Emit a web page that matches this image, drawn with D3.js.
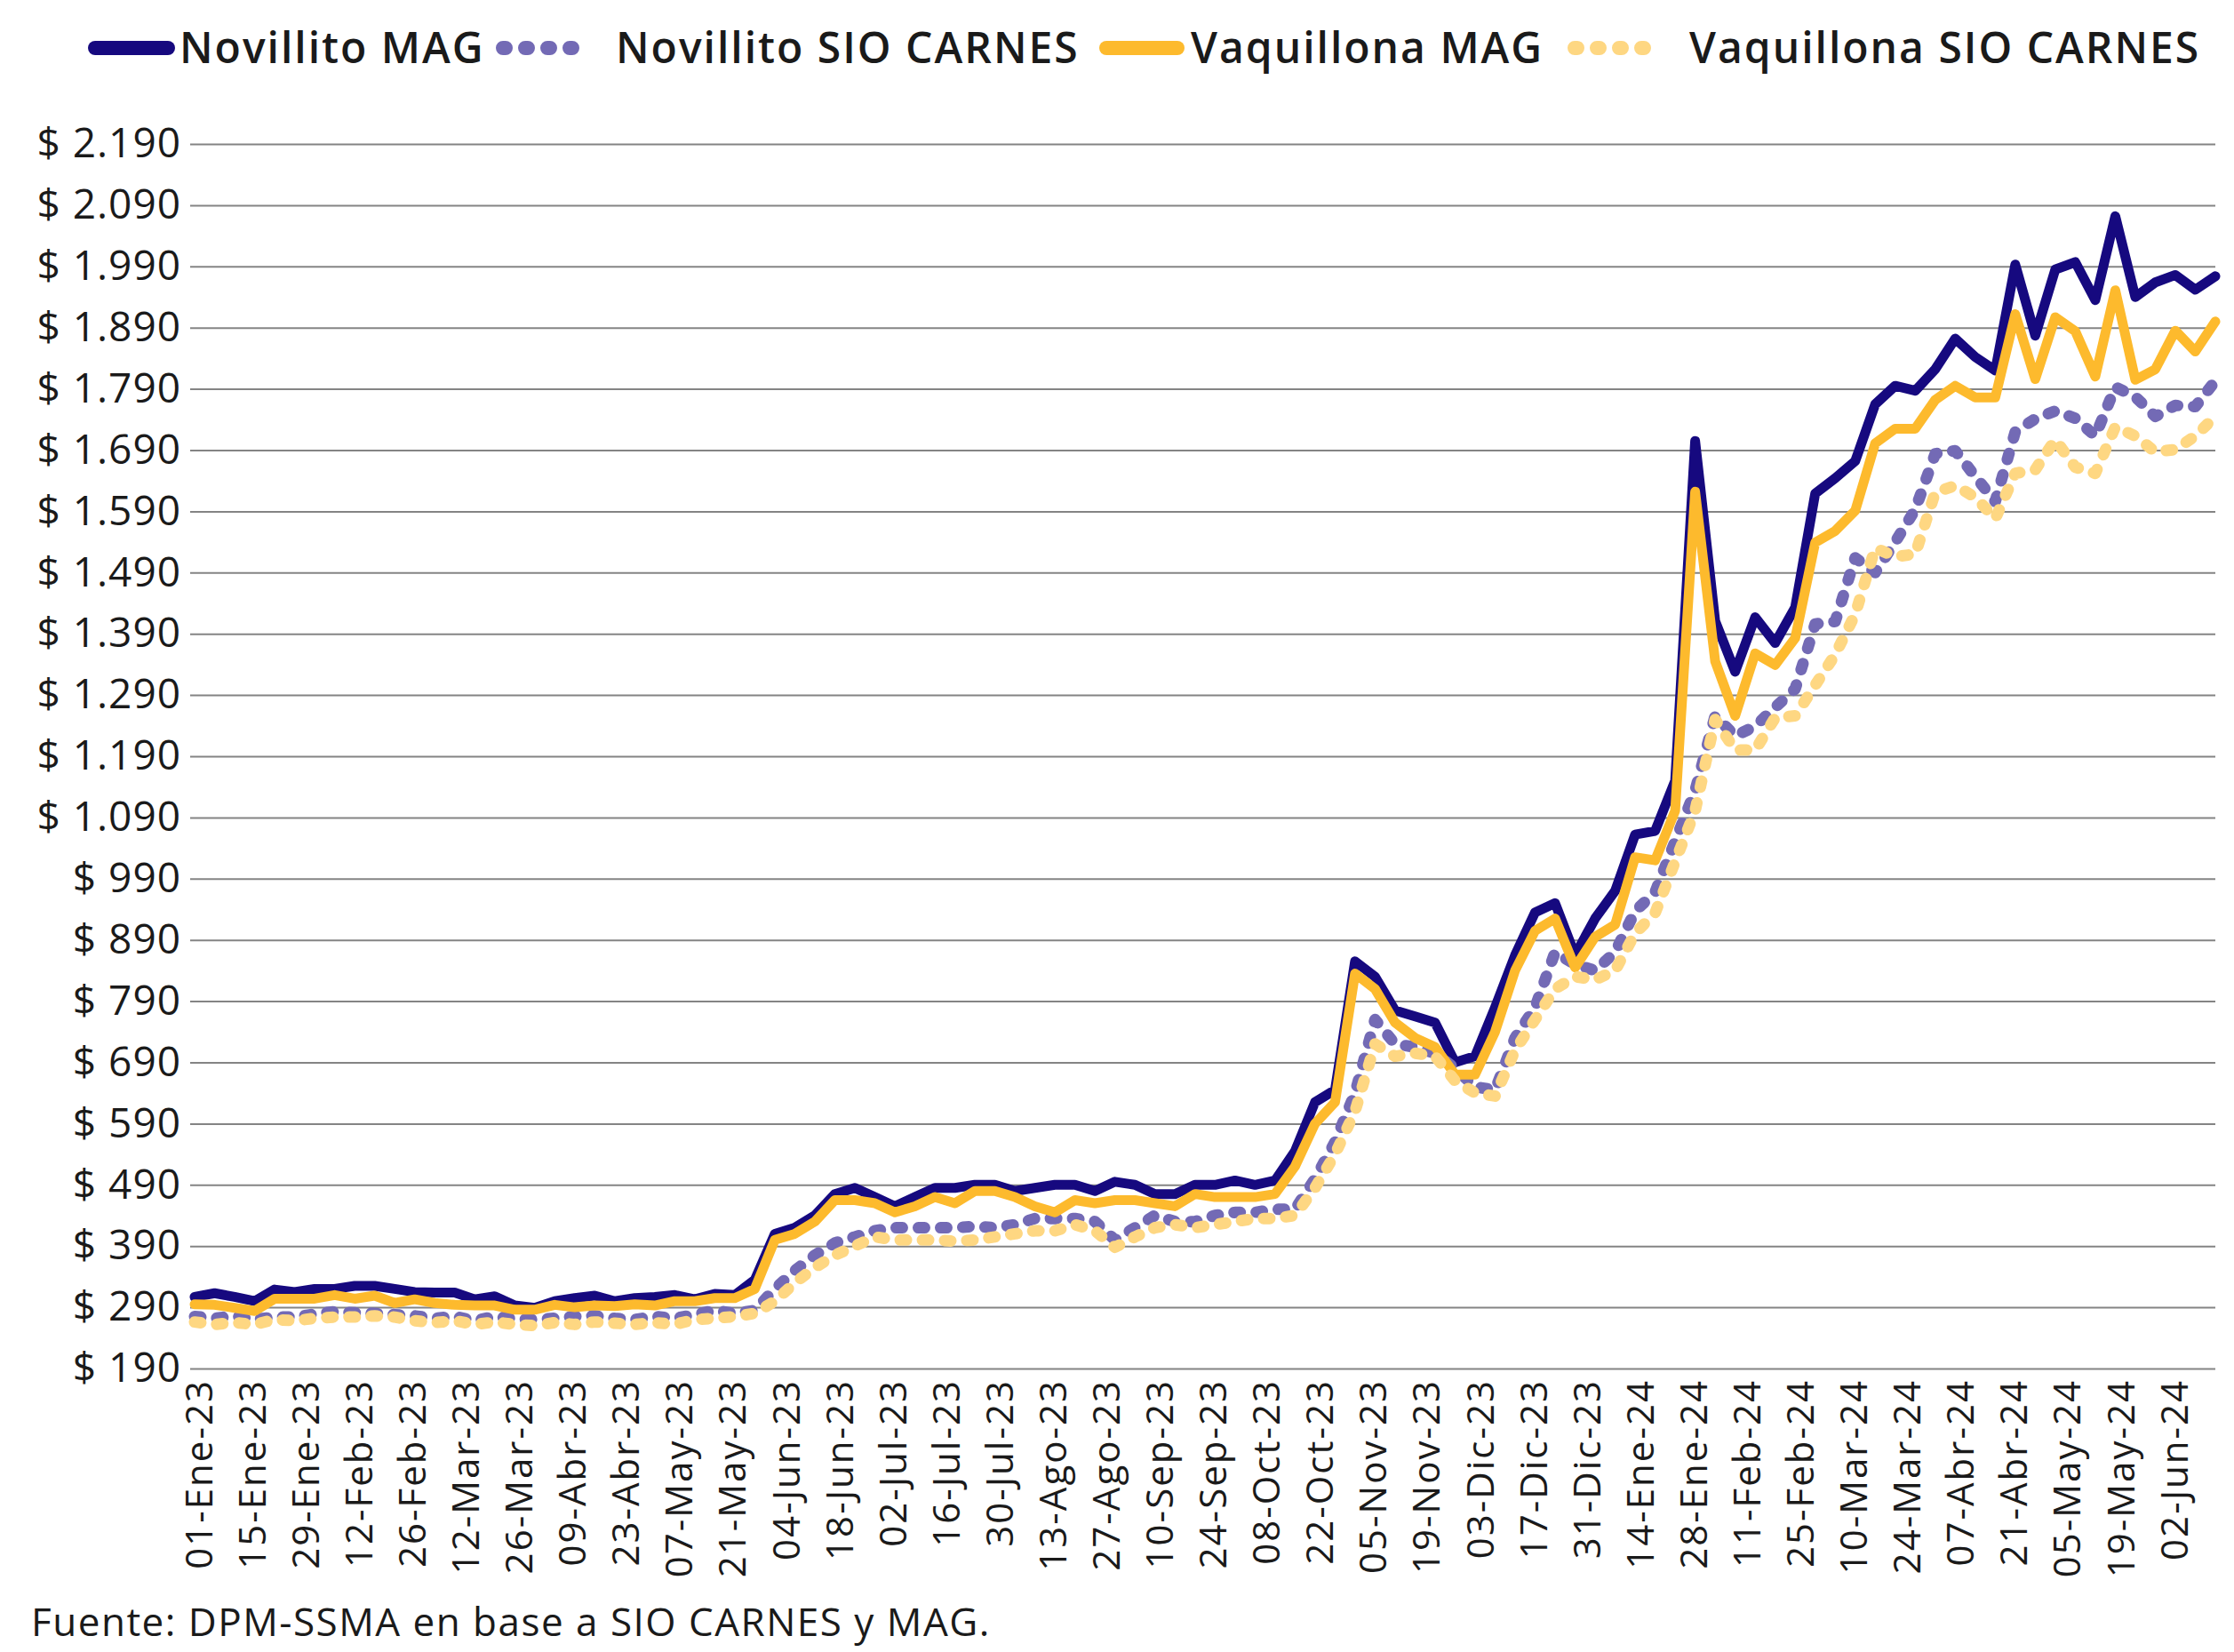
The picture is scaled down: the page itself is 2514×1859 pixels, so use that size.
<!DOCTYPE html>
<html>
<head>
<meta charset="utf-8">
<script src="https://cdn.jsdelivr.net/npm/d3@7"></script>
<style>
  body { margin: 0; background: #fff; }
  svg { display: block; font-family: "Open Sans", sans-serif; }
</style>
</head>
<body>
<svg id="chart" width="2514" height="1859"></svg>
<script>
// ----- DATA -----
const seriesNames = ["Novillito MAG", "Novillito SIO CARNES", "Vaquillona MAG", "Vaquillona SIO CARNES"];

const novilloMag = [307, 313, 307, 300, 319, 315, 320, 320, 325, 325, 320, 315, 314, 314, 303, 308, 293, 289, 300, 305,
  309, 300, 305, 307, 310, 303, 312, 310, 335, 410, 420, 440, 475, 485, 470, 455, 470, 485, 485, 490,
  490, 480, 485, 490, 490, 480, 495, 490, 475, 475, 490, 490, 497, 490, 497, 545, 625, 645, 855, 830,
  775, 765, 755, 690, 700, 780, 865, 935, 950, 865, 925, 970, 1062, 1068, 1150, 1705, 1411, 1328, 1417, 1375,
  1433, 1619, 1644, 1672, 1765, 1795, 1787, 1822, 1872, 1842, 1820, 1993, 1877, 1985, 1997, 1935, 2072, 1940, 1964, 1976,
  1952, 1974];

const novilloSio = [275, 272, 276, 270, 274, 274, 279, 283, 281, 280, 278, 276, 272, 275, 268, 275, 271, 270, 272, 275,
  276, 272, 270, 275, 272, 278, 285, 280, 285, 320, 350, 375, 395, 405, 415, 420, 420, 420, 420, 422,
  420, 425, 435, 435, 435, 430, 400, 420, 440, 430, 430, 440, 445, 445, 450, 450, 500, 560, 640, 760,
  720, 715, 705, 680, 650, 645, 730, 780, 870, 850, 840, 870, 937, 968, 1051, 1134, 1256, 1223, 1239, 1270,
  1300, 1406, 1410, 1514, 1490, 1540, 1593, 1684, 1689, 1647, 1606, 1720, 1741, 1754, 1742, 1713, 1793, 1777, 1745, 1763,
  1761, 1803];

const vaquillonaMag = [295, 294, 289, 284, 304, 304, 304, 310, 304, 309, 297, 303, 297, 294, 293, 293, 286, 286, 294, 290,
  293, 292, 295, 293, 300, 300, 305, 305, 320, 400, 410, 430, 465, 465, 460, 445, 455, 470, 460, 480,
  480, 470, 455, 445, 465, 460, 465, 465, 460, 455, 475, 470, 470, 470, 475, 520, 590, 625, 835, 810,
  755, 730, 715, 670, 670, 740, 840, 905, 925, 845, 895, 915, 1025, 1020, 1101, 1622, 1345, 1256, 1358, 1339,
  1383, 1539, 1558, 1591, 1701, 1725, 1725, 1772, 1795, 1776, 1776, 1912, 1806, 1907, 1884, 1810, 1951, 1805, 1822, 1885,
  1851, 1900];

const vaquillonaSio = [266, 262, 265, 262, 270, 268, 272, 274, 274, 276, 274, 268, 265, 268, 262, 266, 262, 260, 265, 262,
  266, 264, 262, 265, 262, 270, 272, 275, 280, 300, 330, 355, 375, 390, 405, 400, 400, 400, 398, 400,
  405, 410, 415, 415, 425, 415, 388, 405, 420, 425, 420, 425, 430, 435, 435, 440, 485, 540, 610, 720,
  700, 705, 700, 660, 640, 635, 710, 760, 810, 830, 825, 840, 901, 934, 1018, 1101, 1250, 1200, 1200, 1253,
  1256, 1306, 1356, 1422, 1530, 1516, 1520, 1621, 1632, 1613, 1578, 1652, 1658, 1707, 1662, 1652, 1728, 1713, 1687, 1691,
  1713, 1745];

const xLabels = ["01-Ene-23", "15-Ene-23", "29-Ene-23", "12-Feb-23", "26-Feb-23", "12-Mar-23", "26-Mar-23", "09-Abr-23",
  "23-Abr-23", "07-May-23", "21-May-23", "04-Jun-23", "18-Jun-23", "02-Jul-23", "16-Jul-23", "30-Jul-23", "13-Ago-23",
  "27-Ago-23", "10-Sep-23", "24-Sep-23", "08-Oct-23", "22-Oct-23", "05-Nov-23", "19-Nov-23", "03-Dic-23", "17-Dic-23",
  "31-Dic-23", "14-Ene-24", "28-Ene-24", "11-Feb-24", "25-Feb-24", "10-Mar-24", "24-Mar-24", "07-Abr-24", "21-Abr-24",
  "05-May-24", "19-May-24", "02-Jun-24"];

const yTicks = [190, 290, 390, 490, 590, 690, 790, 890, 990, 1090, 1190, 1290, 1390, 1490, 1590, 1690, 1790, 1890, 1990, 2090, 2190];

// ----- LAYOUT -----
const plotLeft = 214, plotRight = 2493, plotTop = 162, plotBottom = 1540;

const svg = d3.select("#chart");
svg.append("rect").attr("width", 2514).attr("height", 1859).attr("fill", "#fff");

// ----- SCALES -----
const x = d3.scaleLinear().domain([0, novilloMag.length - 1]).range([219, plotRight]);
const y = d3.scaleLinear().domain([190, 2190]).range([plotBottom, plotTop]);
const xLab = d3.scalePoint().domain(xLabels).range([223, 2446]);

const esLocale = d3.formatLocale({ decimal: ",", thousands: ".", grouping: [3], currency: ["$ ", ""] });
const money = esLocale.format("$,");

// gridlines
const grid = svg.append("g")
  .attr("transform", "translate(" + plotLeft + ",0)")
  .call(d3.axisLeft(y).tickValues(yTicks).tickSize(-(plotRight - plotLeft)).tickFormat(""));
grid.select(".domain").remove();
grid.selectAll("line").attr("stroke", "#848484").attr("stroke-width", 2);

// y labels
const yAxis = svg.append("g")
  .attr("transform", "translate(" + plotLeft + ",0)")
  .call(d3.axisLeft(y).tickValues(yTicks).tickSize(0).tickPadding(10).tickFormat(money));
yAxis.select(".domain").remove();
yAxis.selectAll("text")
  .attr("font-family", "Open Sans, sans-serif")
  .attr("font-size", 46)
  .attr("letter-spacing", 1)
  .attr("fill", "#1a1a1a");

// x labels
const xAxis = svg.append("g")
  .attr("transform", "translate(0," + plotBottom + ")")
  .call(d3.axisBottom(xLab).tickSize(0));
xAxis.select(".domain").remove();
xAxis.selectAll("text")
  .attr("transform", "rotate(-90)")
  .attr("x", -12)
  .attr("y", 0)
  .attr("dy", "0.36em")
  .style("text-anchor", "end")
  .attr("font-family", "Open Sans, sans-serif")
  .attr("font-size", 42)
  .attr("letter-spacing", 2)
  .attr("fill", "#1a1a1a");

// ----- LINES -----
const styles = [
  { color: "#16097f", dash: null, width: 11 },
  { color: "#736ab5", dash: "7 18", width: 13 },
  { color: "#fdba2d", dash: null, width: 11 },
  { color: "#fed782", dash: "7 18", width: 13 }
];
const allSeries = [novilloMag, novilloSio, vaquillonaMag, vaquillonaSio];

const line = d3.line().x((d, i) => x(i)).y(d => y(d));

svg.append("g").selectAll("path")
  .data(allSeries)
  .join("path")
  .attr("d", line)
  .attr("fill", "none")
  .attr("stroke", (d, i) => styles[i].color)
  .attr("stroke-width", (d, i) => styles[i].width)
  .attr("stroke-linejoin", "round")
  .attr("stroke-linecap", "round")
  .attr("stroke-dasharray", (d, i) => styles[i].dash);

// ----- LEGEND -----
const legendPos = [
  { sx: 107, sw: 82, tx: 202 },
  { sx: 566, sw: 100, tx: 693 },
  { sx: 1245, sw: 80, tx: 1340 },
  { sx: 1772, sw: 100, tx: 1901 }
];
const legend = svg.append("g").attr("id", "legend");
seriesNames.forEach((name, i) => {
  const p = legendPos[i];
  legend.append("line")
    .attr("x1", p.sx).attr("x2", p.sx + p.sw)
    .attr("y1", 54).attr("y2", 54)
    .attr("stroke", styles[i].color)
    .attr("stroke-width", 16)
    .attr("stroke-linecap", "round")
    .attr("stroke-dasharray", styles[i].dash ? "3 22" : null);
  legend.append("text")
    .attr("x", p.tx).attr("y", 54)
    .attr("dy", "0.35em")
    .attr("font-size", 48)
    .attr("font-weight", 600)
    .attr("letter-spacing", 2)
    .attr("fill", "#1a1a1a")
    .text(name);
});

// ----- SOURCE -----
svg.append("text")
  .attr("x", 35).attr("y", 1841)
  .attr("font-size", 44)
  .attr("letter-spacing", 1.5)
  .attr("fill", "#1a1a1a")
  .text("Fuente: DPM-SSMA en base a SIO CARNES y MAG.");
</script>
</body>
</html>
